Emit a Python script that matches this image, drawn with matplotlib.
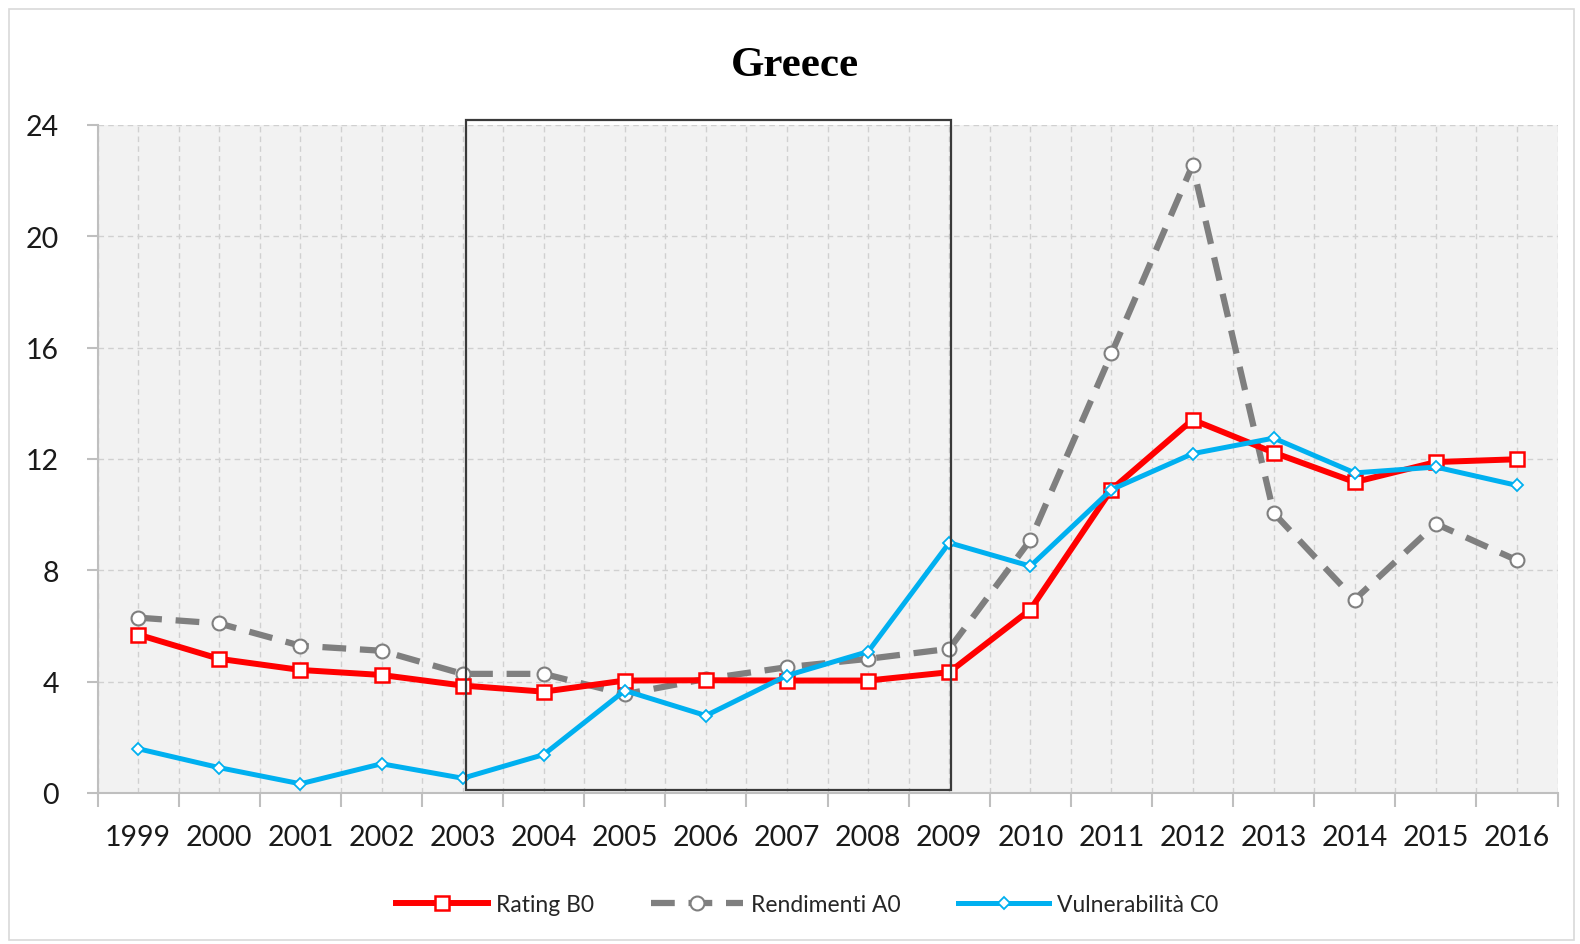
import matplotlib

matplotlib.use("Agg")
import matplotlib.pyplot as plt
from matplotlib.patches import Rectangle
import numpy as np

YEARS = [str(y) for y in range(1999, 2017)]

RATING_B0 = [5.69, 4.82, 4.42, 4.24, 3.86, 3.64, 4.04, 4.05, 4.04, 4.04,
             4.34, 6.59, 10.9, 13.41, 12.23, 11.17, 11.89, 11.99]
RENDIMENTI_A0 = [6.3, 6.09, 5.29, 5.11, 4.28, 4.28, 3.55, 4.1, 4.52, 4.82,
                 5.18, 9.09, 15.79, 22.56, 10.06, 6.95, 9.67, 8.36]
VULNERABILITA_C0 = [1.59, 0.91, 0.33, 1.05, 0.53, 1.38, 3.68, 2.78, 4.22, 5.08,
                    8.99, 8.15, 10.9, 12.19, 12.75, 11.5, 11.71, 11.05]

Y_TICKS = [0, 4, 8, 12, 16, 20, 24]
BOX_YEARS = ("2003", "2009")

RED = "#FF0000"
GRAY = "#7F7F7F"
BLUE = "#00B0F0"

plt.rcParams["font.family"] = ["Lato", "DejaVu Sans"]

fig = plt.figure(figsize=(15.8, 9.45), dpi=100)
ax = fig.add_axes([0.0618, 0.1598, 0.9240, 0.7069])
ax.set_facecolor("#F2F2F2")

x = np.arange(len(YEARS))

ax.plot(x, RATING_B0, color=RED, linewidth=4.3, marker="s", markersize=10,
        markerfacecolor="white", markeredgecolor=RED, markeredgewidth=1.8,
        label="Rating B0", zorder=4)
ax.plot(x, RENDIMENTI_A0, color=GRAY, linewidth=4.5, dashes=(3.8, 2.2),
        marker="o", markersize=10, markerfacecolor="white",
        markeredgecolor=GRAY, markeredgewidth=1.5,
        label="Rendimenti A0", zorder=3)
ax.plot(x, VULNERABILITA_C0, color=BLUE, linewidth=3.6, marker="D",
        markersize=6.5, markerfacecolor="white", markeredgecolor=BLUE,
        markeredgewidth=1.3, label="Vulnerabilità C0", zorder=5)

# highlighted window
x0 = YEARS.index(BOX_YEARS[0]) + 0.04
x1 = YEARS.index(BOX_YEARS[1]) + 0.02
ax.add_patch(Rectangle((x0, 0.11), x1 - x0, 24.06, fill=False,
                       edgecolor="#3A3A3A", linewidth=1.6, clip_on=False,
                       zorder=6))

ax.set_xlim(-0.5, len(YEARS) - 0.5)
ax.set_ylim(0, 24)
ax.set_xticks(x)
ax.set_xticklabels(YEARS)
ax.set_xticks(np.arange(len(YEARS) + 1) - 0.5, minor=True)
ax.set_yticks(Y_TICKS)

ax.tick_params(axis="x", which="major", length=0, pad=22, labelsize=20.5,
               labelcolor="#1a1a1a")
ax.tick_params(axis="x", which="minor", length=10, width=1.5, color="#BFBFBF")
ax.tick_params(axis="y", which="major", length=8, width=1.5, color="#BFBFBF",
               pad=20, labelsize=20.5, labelcolor="#1a1a1a")

ax.grid(True, which="both", axis="x", color="#D0D0D0", linestyle=(0, (4, 3)),
        linewidth=1.0)
ax.grid(True, which="major", axis="y", color="#D0D0D0", linestyle=(0, (4, 3)),
        linewidth=1.0)
ax.set_axisbelow(True)

for side in ("top", "right"):
    ax.spines[side].set_visible(False)
for side in ("left", "bottom"):
    ax.spines[side].set_color("#BFBFBF")
    ax.spines[side].set_linewidth(1.5)

fig.text(0.503, 0.930, "Greece", ha="center", va="center",
         fontsize=31, fontweight="bold", family="Liberation Serif")

leg = fig.legend(loc="center", bbox_to_anchor=(0.511, 0.042), ncol=3,
                 frameon=False, fontsize=16.5, handlelength=4.0,
                 handletextpad=0.35, columnspacing=2.5)
for t in leg.get_texts():
    t.set_color("#262626")

# chart border
fig.add_artist(Rectangle((0.006, 0.004), 0.99, 0.985, transform=fig.transFigure,
                         fill=False, edgecolor="#D9D9D9", linewidth=1.2))

fig.savefig("out.png", dpi=100)
